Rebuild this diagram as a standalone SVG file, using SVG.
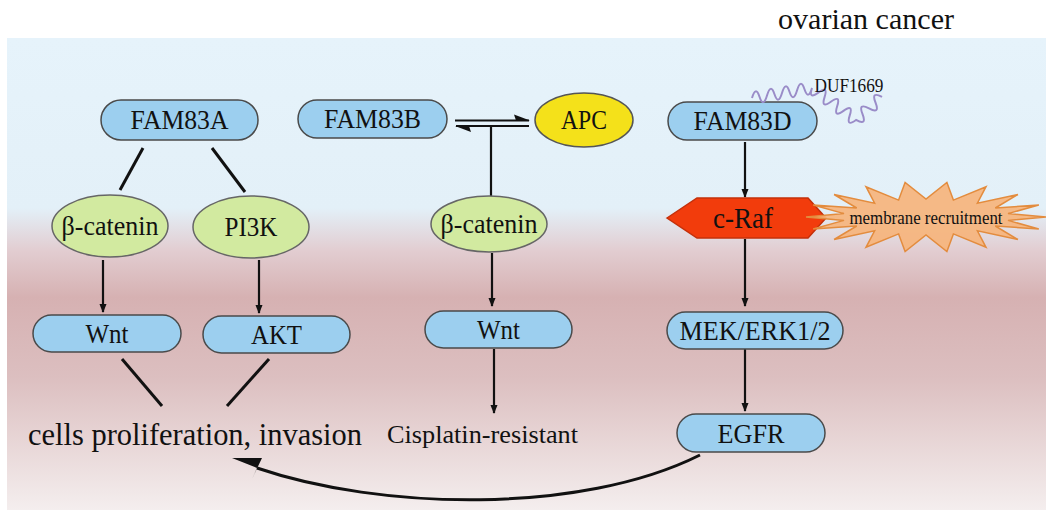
<svg xmlns="http://www.w3.org/2000/svg" width="1046" height="511" viewBox="0 0 1046 511">
<defs>
<linearGradient id="bg" x1="0" y1="38" x2="0" y2="510" gradientUnits="userSpaceOnUse">
<stop offset="0" stop-color="#e6f3fb"/>
<stop offset="0.36" stop-color="#e3f0f8"/>
<stop offset="0.45" stop-color="#e2cdd1"/>
<stop offset="0.55" stop-color="#d6b1b2"/>
<stop offset="0.72" stop-color="#dcbfc0"/>
<stop offset="1" stop-color="#f4eeee"/>
</linearGradient>
<marker id="ah" viewBox="0 0 10 10" refX="9" refY="5" markerWidth="4" markerHeight="4" orient="auto" markerUnits="strokeWidth">
<path d="M0,1 L10,5 L0,9 Z" fill="#111"/>
</marker>
</defs>
<style>
.pill{fill:#9ccfef;stroke:#4a4a4a;stroke-width:1.5}
.oval{fill:#d2eaa0;stroke:#666;stroke-width:1.5}
.t{font-family:"Liberation Serif","Times New Roman",serif;fill:#111;text-anchor:middle}
.ln{stroke:#111;stroke-width:2.2;fill:none}
.dl{stroke:#111;stroke-width:3;fill:none}
</style>
<rect x="0" y="0" width="1046" height="511" fill="#ffffff"/>
<rect x="7" y="38" width="1039" height="472" fill="url(#bg)"/>
<text x="866" y="29" class="t" font-size="30" textLength="176" lengthAdjust="spacingAndGlyphs">ovarian cancer</text>

<g id="connectors">
<line class="dl" x1="143" y1="148" x2="120" y2="190"/>
<line class="dl" x1="212" y1="148" x2="245" y2="192"/>
<line class="ln" x1="103" y1="260" x2="103" y2="312" marker-end="url(#ah)"/>
<line class="ln" x1="259" y1="260" x2="259" y2="313" marker-end="url(#ah)"/>
<line class="dl" x1="122" y1="359" x2="162" y2="406"/>
<line class="dl" x1="269" y1="359" x2="227" y2="406"/>
<line class="ln" x1="455" y1="120.5" x2="529" y2="120.5"/>
<polygon points="530,120.5 514,114.5 516,120.5" fill="#111"/>
<line class="ln" x1="456" y1="126" x2="529" y2="126"/>
<polygon points="455,126 471,132 469,126" fill="#111"/>
<line class="ln" x1="491" y1="196" x2="491" y2="127"/>
<line class="ln" x1="492" y1="253" x2="492" y2="306" marker-end="url(#ah)"/>
<line class="ln" x1="494" y1="349" x2="494" y2="413" marker-end="url(#ah)"/>
<line class="ln" x1="745" y1="142" x2="745" y2="197" marker-end="url(#ah)"/>
<line class="ln" x1="745" y1="239" x2="745" y2="306" marker-end="url(#ah)"/>
<line class="ln" x1="745" y1="349" x2="745" y2="411" marker-end="url(#ah)"/>
<path class="dl" d="M700,455 C580,515 380,510 257,468"/>
<polygon points="232,458 262,458 252,479 257,468" fill="#111"/>
</g>

<g id="FAM83A"><rect class="pill" x="101" y="100" width="157" height="40" rx="20"/><text class="t" x="179.5" y="129" font-size="27" textLength="98" lengthAdjust="spacingAndGlyphs">FAM83A</text></g>
<g id="FAM83B"><rect class="pill" x="298" y="100" width="149" height="38" rx="19"/><text class="t" x="372.5" y="128" font-size="27" textLength="97" lengthAdjust="spacingAndGlyphs">FAM83B</text></g>
<g id="APC"><ellipse cx="584" cy="120" rx="49" ry="27" fill="#f4e11a" stroke="#555" stroke-width="1.5"/><text class="t" x="584" y="129" font-size="27" textLength="46" lengthAdjust="spacingAndGlyphs">APC</text></g>
<g id="FAM83D"><rect class="pill" x="668" y="102" width="149" height="38" rx="19"/><text class="t" x="742.5" y="130" font-size="27" textLength="98" lengthAdjust="spacingAndGlyphs">FAM83D</text></g>
<g id="DUF1669">
<path fill="none" stroke="#9a8cc8" stroke-width="2" d="M752,98 q3.75,-12.6 7.5,-1.25 q3.75,11.4 7.5,-1.25 q3.75,-12.6 7.5,-1.25 q3.75,11.4 7.5,-1.25 q3.75,-12.6 7.5,-1.25 q3.75,11.4 7.5,-1.25 q3.75,-12.6 7.5,-1.25 q3.75,11.4 7.5,-1.25 q-3.9,12 6.29,4.57 q10.2,-7.4 6.29,4.57 q-3.9,12 6.29,4.57 q10.2,-7.4 6.29,4.57 q-3.9,12 6.29,4.57 q10.2,-7.4 6.29,4.57 q-3.9,12 6.29,4.57 q11.2,6.1 6.5,-5.75 q-4.7,-11.9 6.5,-5.75 q11.2,6.1 6.5,-5.75 q-4.7,-11.9 6.5,-5.75"/>
<text class="t" x="849" y="92" font-size="18" textLength="69" lengthAdjust="spacingAndGlyphs">DUF1669</text>
</g>
<g id="c-Raf"><polygon points="667,218 697,198 808,198 826,218 808,238 697,238" fill="#f23c0c" stroke="#c4300a" stroke-width="1.5"/><text class="t" x="743" y="228" font-size="29" textLength="60" lengthAdjust="spacingAndGlyphs">c-Raf</text></g>
<g id="membrane-recruitment">
<polygon points="1046,217 1008,220.4 1038.8,229 995.3,226 1017.9,239.5 977.4,230.8 986,247.3 953.4,233.9 946.9,251.5 926,235 905.1,251.5 898.6,233.9 866,247.3 874.6,230.8 834.1,239.5 856.7,226 813.2,229 844,220.4 806,217 844,213.6 813.2,205 856.7,208 834.1,194.5 874.6,203.2 866,186.7 898.6,200.1 905.1,182.5 926,199 946.9,182.5 953.4,200.1 986,186.7 977.4,203.2 1017.9,194.5 995.3,208 1038.8,205 1008,213.6" fill="#f6b47c" fill-opacity="0.92" stroke="#e38c3e" stroke-width="1.5"/>
<text class="t" x="926" y="224" font-size="18" textLength="153" lengthAdjust="spacingAndGlyphs">membrane recruitment</text>
</g>
<g id="beta-catenin-1"><ellipse class="oval" cx="110" cy="226" rx="58" ry="31"/><text class="t" x="110" y="235" font-size="27" textLength="97" lengthAdjust="spacingAndGlyphs">β-catenin</text></g>
<g id="PI3K"><ellipse class="oval" cx="251" cy="227" rx="58" ry="31"/><text class="t" x="251" y="236" font-size="27" textLength="53" lengthAdjust="spacingAndGlyphs">PI3K</text></g>
<g id="beta-catenin-2"><ellipse class="oval" cx="489" cy="224" rx="58" ry="28"/><text class="t" x="489" y="233" font-size="27" textLength="97" lengthAdjust="spacingAndGlyphs">β-catenin</text></g>
<g id="Wnt-1"><rect class="pill" x="33" y="315" width="148" height="37" rx="18.5"/><text class="t" x="107" y="343" font-size="27" textLength="43" lengthAdjust="spacingAndGlyphs">Wnt</text></g>
<g id="AKT"><rect class="pill" x="203" y="316" width="147" height="37" rx="18.5"/><text class="t" x="276.5" y="344" font-size="27" textLength="51" lengthAdjust="spacingAndGlyphs">AKT</text></g>
<g id="Wnt-2"><rect class="pill" x="425" y="311" width="147" height="37" rx="18.5"/><text class="t" x="498.5" y="339" font-size="27" textLength="43" lengthAdjust="spacingAndGlyphs">Wnt</text></g>
<g id="MEK-ERK"><rect class="pill" x="667" y="312" width="176" height="37" rx="18.5"/><text class="t" x="755" y="340" font-size="27" textLength="151" lengthAdjust="spacingAndGlyphs">MEK/ERK1/2</text></g>
<g id="EGFR"><rect class="pill" x="677" y="414" width="148" height="38" rx="19"/><text class="t" x="751" y="443" font-size="27" textLength="67" lengthAdjust="spacingAndGlyphs">EGFR</text></g>
<g id="cells"><text class="t" x="195" y="445" font-size="31" textLength="334" lengthAdjust="spacingAndGlyphs">cells proliferation, invasion</text></g>
<g id="cisplatin"><text class="t" x="482.5" y="443" font-size="26" textLength="191" lengthAdjust="spacingAndGlyphs">Cisplatin-resistant</text></g>
</svg>
